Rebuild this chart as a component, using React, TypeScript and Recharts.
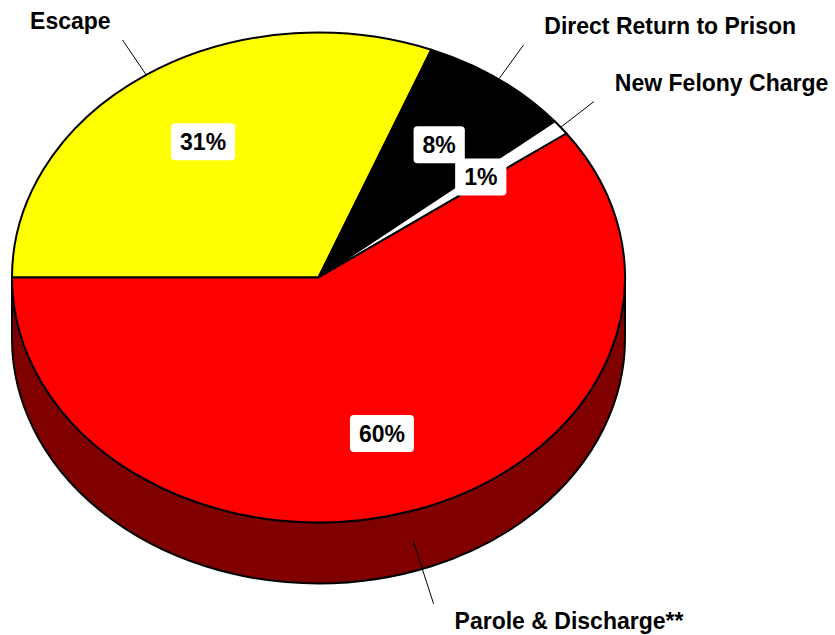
import React from 'react';
import { PieChart, Pie, Cell } from 'recharts';

const categories = ['Escape', 'Direct Return to Prison', 'New Felony Charge', 'Parole & Discharge**'];
const values = [31, 8, 1, 60];
const topColors = ['#FFFF00', '#000000', '#FFFFFF', '#FF0000'];
const sideColors = ['#808000', '#000000', '#BFBFBF', '#800000'];

const data = categories.map((name, i) => ({ name, value: values[i], sideColor: sideColors[i] }));

const RAD = Math.PI / 180;
const K = 245 / 306.5; // vertical squash of the tilted pie
const DEPTH = 61;
const FONT = '"Liberation Sans", Arial, sans-serif';
const FS = 23;

function pt(cx: number, cy: number, rx: number, a: number, f = 1): [number, number] {
  return [cx + rx * f * Math.cos(a * RAD), cy - rx * K * f * Math.sin(a * RAD)];
}

function Slice3D(props: any) {
  const { cx, cy, outerRadius: rx, startAngle: s, endAngle: e, fill } = props;
  const sideColor = props.sideColor ?? props.payload?.sideColor ?? '#444';
  const ry = rx * K;
  const hi = Math.max(s, e);
  const lo = Math.min(s, e);
  const sides: string[] = [];
  for (let k = -2; k <= 1; k++) {
    const a1 = Math.max(lo, 180 + 360 * k);
    const a2 = Math.min(hi, 360 + 360 * k);
    if (a2 > a1) {
      const [x2, y2] = pt(cx, cy, rx, a2);
      const [x1, y1] = pt(cx, cy, rx, a1);
      sides.push(
        `M${x2},${y2} A${rx},${ry} 0 0 1 ${x1},${y1} L${x1},${y1 + DEPTH} A${rx},${ry} 0 0 0 ${x2},${y2 + DEPTH} Z`
      );
    }
  }
  const [sx, sy] = pt(cx, cy, rx, s);
  const [ex, ey] = pt(cx, cy, rx, e);
  const large = Math.abs(s - e) > 180 ? 1 : 0;
  const sweep = s > e ? 1 : 0;
  const top = `M${cx},${cy} L${sx},${sy} A${rx},${ry} 0 ${large} ${sweep} ${ex},${ey} Z`;
  return (
    <g>
      {sides.map((d, i) => (
        <path key={i} d={d} fill={sideColor} stroke="#000" strokeWidth={2} strokeLinejoin="round" />
      ))}
      <path d={top} fill={fill} stroke="#000" strokeWidth={2} strokeLinejoin="round" />
    </g>
  );
}

function textWidth(t: string) {
  let w = 0;
  for (const ch of t) w += ch === '%' ? 0.889 : 0.556;
  return w * FS;
}

function renderLabel(props: any) {
  const { cx, cy, midAngle, outerRadius: rx, percent } = props;
  const name = props.name ?? props.payload?.name;
  const c = Math.cos(midAngle * RAD);
  const sn = Math.sin(midAngle * RAD);
  const [ix, iy] = pt(cx, cy, rx, midAngle, 0.67);
  const pct = `${Math.round(percent * 100)}%`;
  const bw = textWidth(pct) + 18;
  const bh = 37;
  const [ex0, ey0] = pt(cx, cy, rx, midAngle);
  const sx = ex0;
  const sy = ey0 + (sn < 0 ? DEPTH / 2 : 0);
  const L = sn < 0 ? 66 : 42;
  const tx = sx + c * L;
  const ty = sy - sn * L;
  const right = c >= 0;
  return (
    <g>
      <rect x={ix - bw / 2} y={iy - bh / 2} width={bw} height={bh} rx={4} ry={4} fill="#FFFFFF" />
      <text x={ix} y={iy + 8} textAnchor="middle" fontFamily={FONT} fontWeight="bold" fontSize={FS} fill="#000">
        {pct}
      </text>
      <line x1={sx} y1={sy} x2={tx} y2={ty} stroke="#000" strokeWidth={1} />
      <text
        x={tx + (right ? 21 : -12)}
        y={ty + (sn >= 0 ? -11 : 25)}
        textAnchor={right ? 'start' : 'end'}
        fontFamily={FONT}
        fontWeight="bold"
        fontSize={FS}
        fill="#000"
      >
        {name}
      </text>
    </g>
  );
}

export default function App() {
  return (
    <div style={{ position: 'absolute', left: 0, top: 0, width: 835, height: 635, background: '#fff' }}>
      <PieChart width={835} height={635} margin={{ top: 0, right: 0, bottom: 0, left: 0 }}>
        <Pie
          data={data}
          dataKey="value"
          nameKey="name"
          cx={318.5}
          cy={277.5}
          innerRadius={0}
          outerRadius={306.5}
          startAngle={180}
          endAngle={-180}
          paddingAngle={0}
          stroke="#000"
          strokeWidth={2}
          isAnimationActive={false}
          shape={Slice3D}
          activeShape={Slice3D}
          inactiveShape={Slice3D}
          label={renderLabel}
          labelLine={false}
        >
          {data.map((d, i) => (
            <Cell key={d.name} fill={topColors[i]} />
          ))}
        </Pie>
      </PieChart>
    </div>
  );
}
